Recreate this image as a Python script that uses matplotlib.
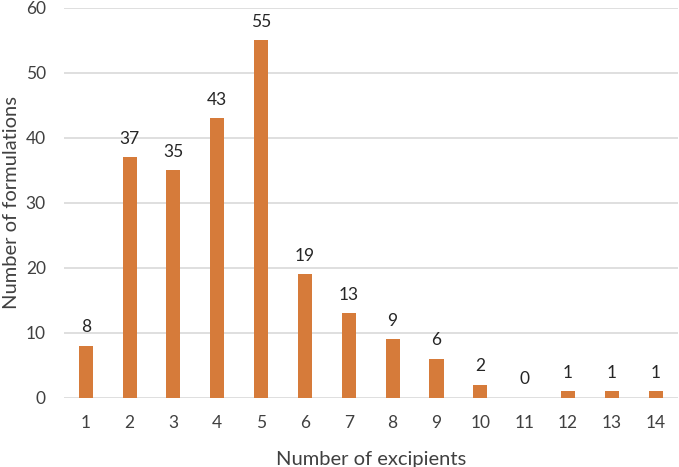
import numpy as np
import matplotlib.pyplot as plt

plt.rcParams['font.family'] = ['Lato', 'DejaVu Sans']

excipients = list(range(1, 15))
formulations = [8, 37, 35, 43, 55, 19, 13, 9, 6, 2, 0, 1, 1, 1]
yticks = [0, 10, 20, 30, 40, 50, 60]

fig = plt.figure(figsize=(6.79, 4.67), dpi=100)
ax = fig.add_axes([0.094, 0.148, 0.904, 0.835])

bars = ax.bar(excipients, formulations, width=0.32, color='#D67B3A', zorder=3)
for x, v in zip(excipients, formulations):
    ax.text(x, v + 1.6, str(v), ha='center', va='bottom', fontsize=12.5, color='#262626')

ax.set_xlim(0.5, 14.5)
ax.set_ylim(0, 60)
ax.set_yticks(yticks)
ax.set_xticks(excipients)
ax.yaxis.grid(True, color='#d9d9d9', linewidth=1.2, zorder=0)
for s in ax.spines.values():
    s.set_visible(False)
ax.tick_params(length=0, labelsize=12.5, labelcolor='#404040')
ax.tick_params(axis='x', pad=12)
ax.tick_params(axis='y', pad=13)
ax.set_xlabel('Number of excipients', fontsize=14.5, color='#404040', labelpad=15)
ax.set_ylabel('Number of formulations', fontsize=14.5, color='#404040', labelpad=4)

fig.savefig('out.png', dpi=100)
